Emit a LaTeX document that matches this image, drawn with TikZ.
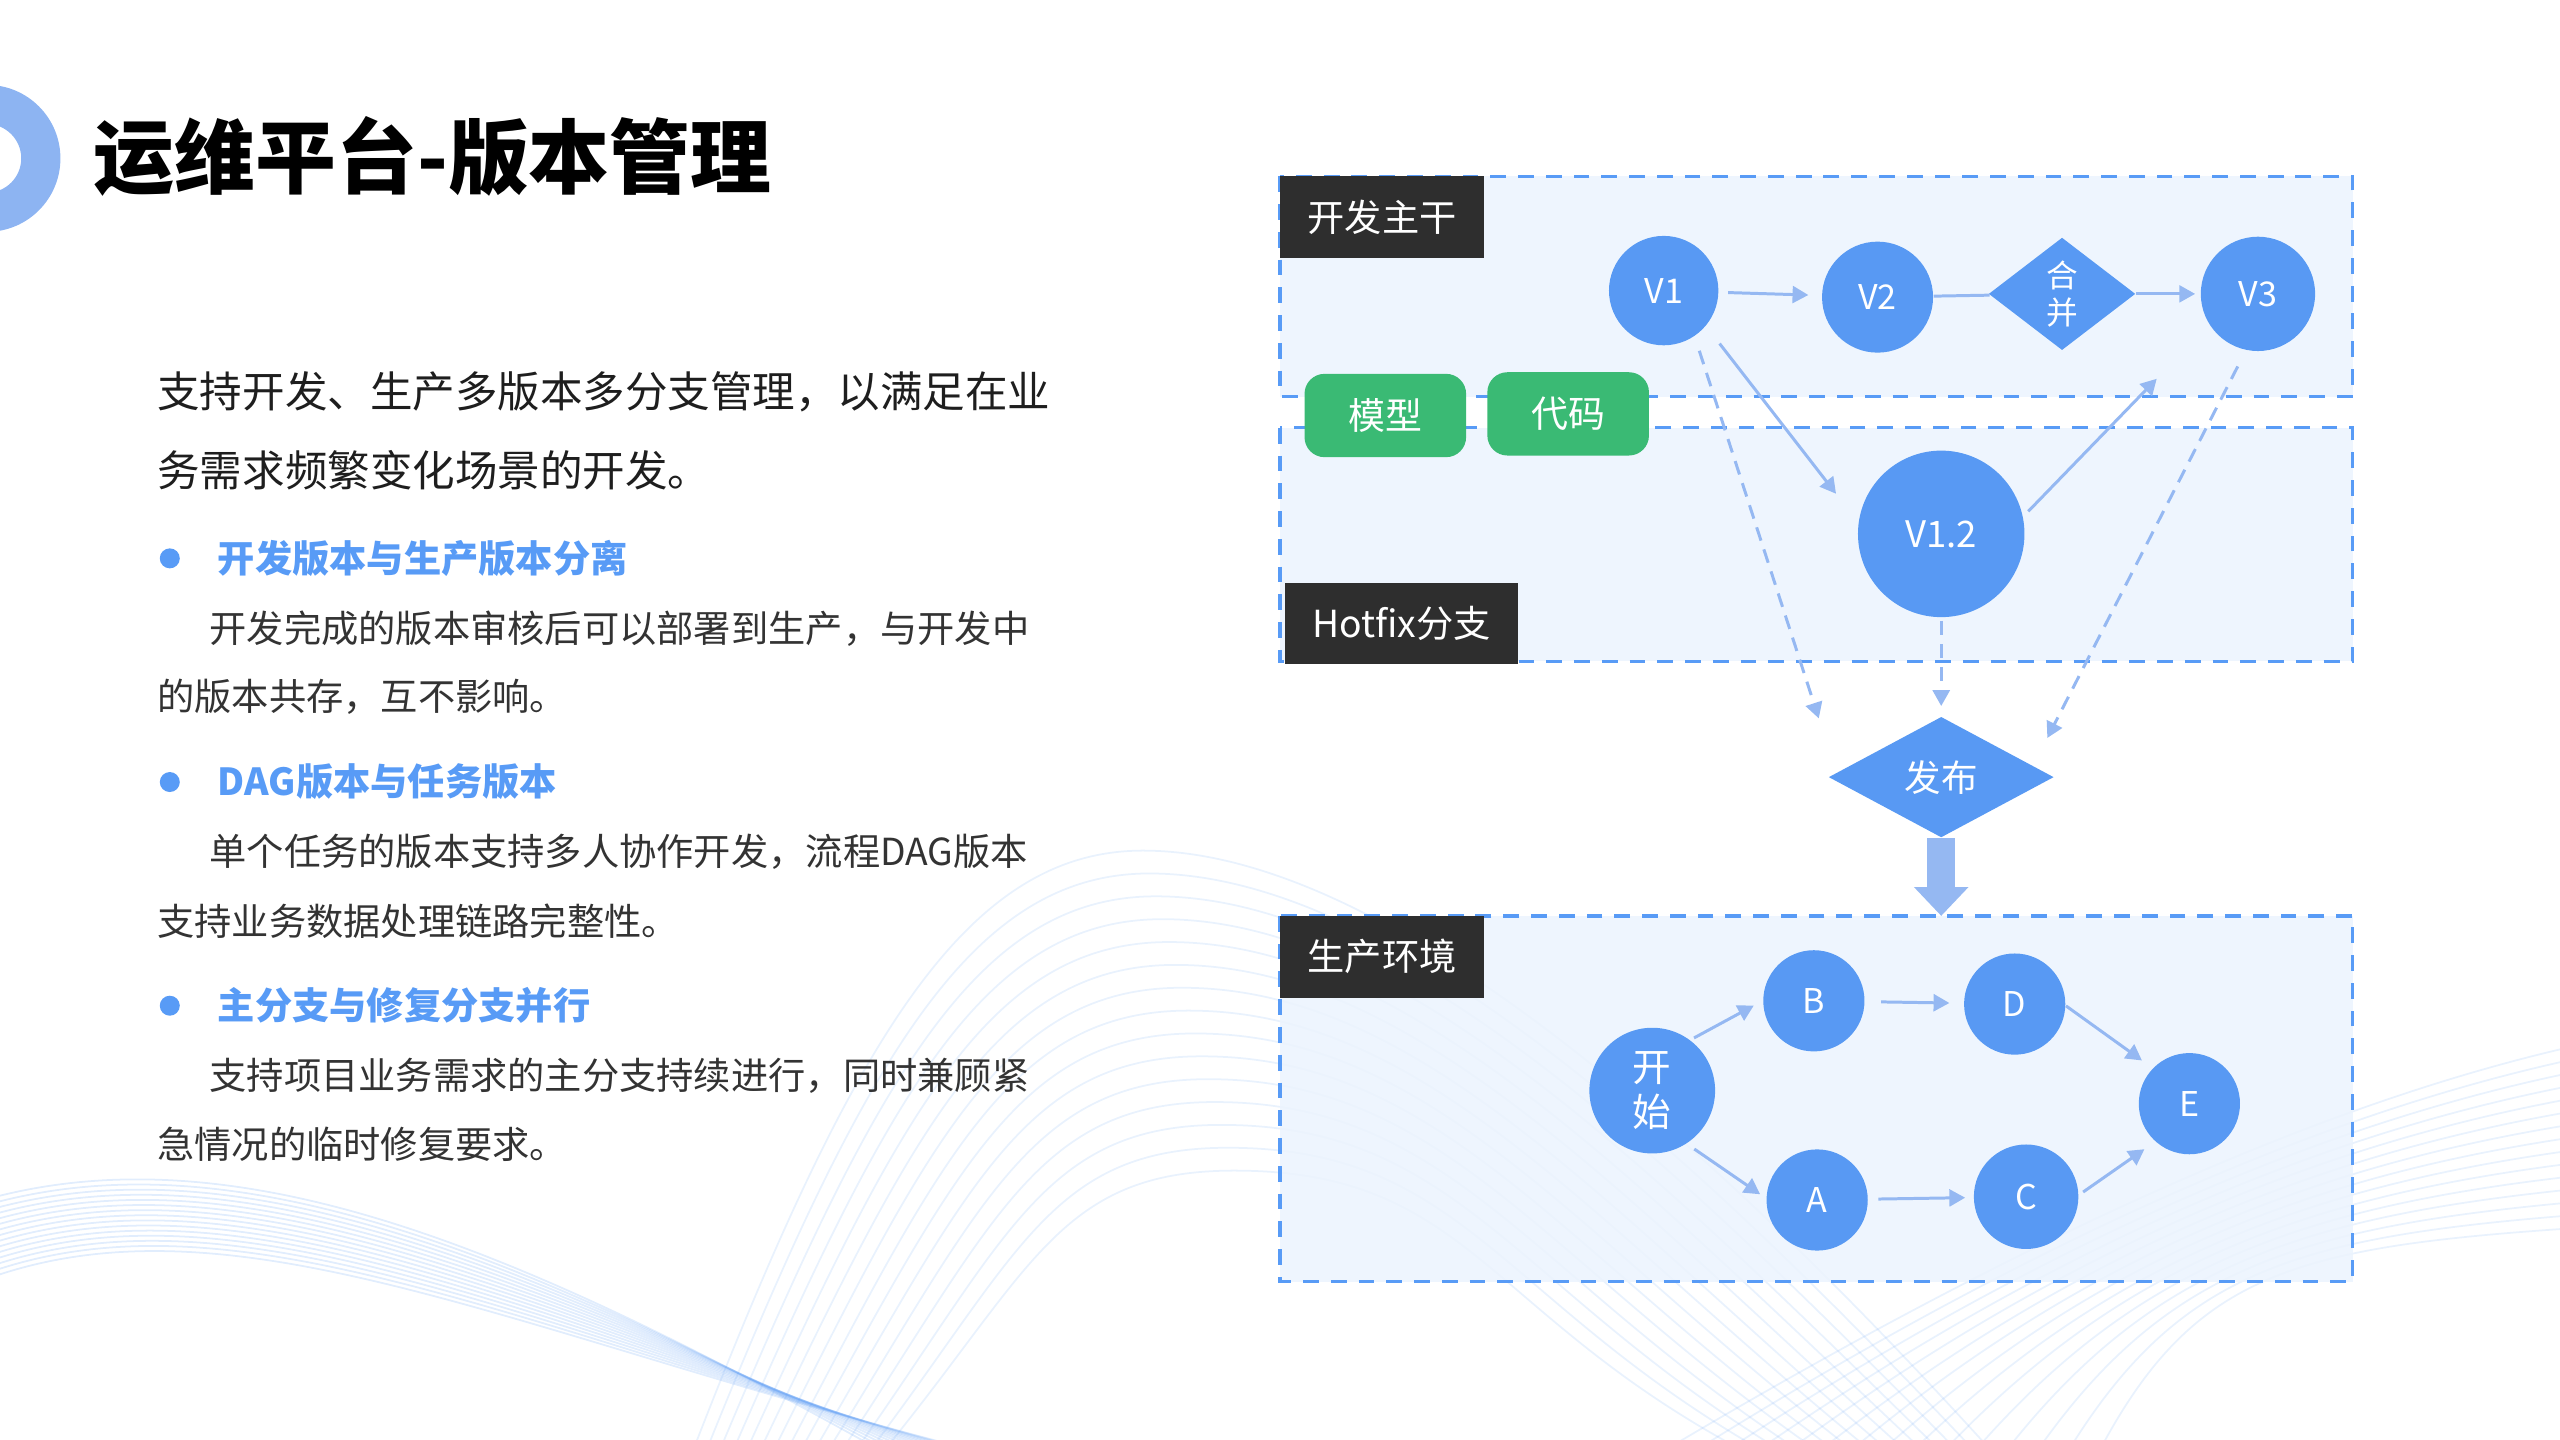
\documentclass[tikz,border=0pt]{standalone}
\usepackage{fontspec}
\setmainfont{Noto Sans CJK SC}
\usetikzlibrary{shapes.geometric, arrows.meta, positioning}
\definecolor{nodeblue}{RGB}{88,153,243}
\definecolor{linkblue}{RGB}{149,184,242}
\definecolor{dashblue}{RGB}{88,155,246}
\definecolor{lanefill}{RGB}{236,244,254}
\definecolor{tagdark}{RGB}{46,46,46}
\definecolor{kindgreen}{RGB}{58,186,116}
\definecolor{ringblue}{RGB}{141,180,242}
\definecolor{headblue}{RGB}{88,155,246}
\definecolor{textdark}{RGB}{30,30,30}
\definecolor{bodygrey}{RGB}{51,51,51}

\begin{document}
\begin{tikzpicture}[x=0.016327cm, y=-0.016327cm,
    every node/.style={inner sep=0pt},
    ver/.style={circle, fill=nodeblue, text=white, font=\fontsize{9.7pt}{11pt}\selectfont},
    gate/.style={diamond, fill=nodeblue, text=white},
    lane/.style={draw=dashblue, fill=lanefill, fill opacity=0.88, line width=0.95pt, dash pattern=on 4.5pt off 3.4pt},
    tag/.style={fill=tagdark, text=white, minimum height=0.816cm, font=\fontsize{10.6pt}{12pt}\selectfont},
    kind/.style={fill=kindgreen, text=white, rounded corners=0.2cm, minimum width=1.616cm, minimum height=0.833cm, font=\fontsize{10.5pt}{12pt}\selectfont},
    link/.style={draw=linkblue, line width=0.85pt, -{Triangle[length=4.5pt,width=4.8pt]}},
    hint/.style={link, dash pattern=on 4pt off 2.6pt},
    wave/.style={nodeblue, line width=0.5pt, draw opacity=0.13},
    lead/.style={anchor=west, text=textdark, font=\fontsize{12.1pt}{14pt}\selectfont},
    point/.style={anchor=west, text=headblue, font=\bfseries\fontsize{10.6pt}{12pt}\selectfont},
    body/.style={anchor=west, text=bodygrey, font=\fontsize{10.6pt}{12pt}\selectfont}]
    \useasboundingbox (0,0) rectangle (1568,882);
    % background waves
    \begin{scope}
        \clip (0,0) rectangle (1568,882);
        \foreach \k in {0,...,14}
            \draw[wave, draw opacity=0.18] (-10,{735+3.5*\k}) .. controls (150,{690+2.5*\k}) and (330,{770+4*\k}) .. ({560+6*\k},900);
        \foreach \k in {0,...,14}
            \draw[wave] ({420+8*\k},900) .. controls ({520+8*\k},{640+10*\k}) and ({590+4*\k},{521+14*\k}) .. ({700+4*\k},{521+14*\k})
                .. controls ({850+4*\k},{521+14*\k}) and ({1050-10*\k},{700+8*\k}) .. ({1230-10*\k},900);
        \foreach \k in {0,...,14}
            \draw[wave] ({1000+20*\k},900) .. controls ({1200+10*\k},780) and (1400,{680+6*\k}) .. (1580,{640+8*\k});
    \end{scope}
    % title ring
    \fill[ringblue, even odd rule] (-8,97) circle (0.735cm) (-8,97) circle (0.343cm);
    \node[anchor=west, font=\bfseries\fontsize{23pt}{26pt}\selectfont] (title) at (57,96) {运维平台-版本管理};
    % left text
    \node[lead] (intro1) at (96,240) {支持开发、生产多版本多分支管理，以满足在业};
    \node[lead] (intro2) at (96,288) {务需求频繁变化场景的开发。};
    \foreach \y in {342,479,616}
        \fill[headblue] (104,\y) circle (0.1cm);
    \node[point] (head1) at (133,342) {开发版本与生产版本分离};
    \node[body] (text1a) at (128,385) {开发完成的版本审核后可以部署到生产，与开发中};
    \node[body] (text1b) at (96,427) {的版本共存，互不影响。};
    \node[point] (head2) at (133,479) {DAG版本与任务版本};
    \node[body] (text2a) at (128,522) {单个任务的版本支持多人协作开发，流程DAG版本};
    \node[body] (text2b) at (96,564) {支持业务数据处理链路完整性。};
    \node[point] (head3) at (133,616) {主分支与修复分支并行};
    \node[body] (text3a) at (128,659) {支持项目业务需求的主分支持续进行，同时兼顾紧};
    \node[body] (text3b) at (96,701) {急情况的临时修复要求。};
    % lanes
    \draw[lane] (784,108) rectangle (1441,243);
    \draw[lane] (784,262) rectangle (1441,405);
    \draw[lane] (784,561) rectangle (1441,785);
    \node[tag, minimum width=2.041cm] (trunktag) at (846.5,133) {开发主干};
    \node[tag, minimum width=2.335cm] (fixtag) at (858.5,382) {Hotfix分支};
    \node[tag, minimum width=2.041cm] (prodtag) at (846.5,586) {生产环境};
    \node[kind] (model) at (848.5,254.5) {模型};
    \node[kind] (code) at (960.5,253.5) {代码};
    % version nodes
    \node[ver, minimum size=1.094cm] (v1) at (1019,178) {V1};
    \node[ver, minimum size=1.110cm] (v2) at (1150,182) {V2};
    \node[gate, minimum width=1.469cm, minimum height=1.127cm, align=center, font=\fontsize{9pt}{10.7pt}\selectfont] (merge) at (1263,180) {合\\并};
    \node[ver, minimum size=1.143cm] (v3) at (1383,180) {V3};
    \node[ver, minimum size=1.665cm, font=\fontsize{10.4pt}{12pt}\selectfont] (v12) at (1189,327) {V1.2};
    \node[gate, minimum width=2.253cm, minimum height=1.208cm, font=\fontsize{10.4pt}{12pt}\selectfont] (release) at (1189,476) {发布};
    % production dag
    \node[ver, minimum size=1.257cm, align=center, font=\fontsize{11pt}{13pt}\selectfont] (start) at (1012,668) {开\\始};
    \node[ver, minimum size=1.012cm] (b) at (1111,613) {B};
    \node[ver, minimum size=1.012cm] (d) at (1234,615) {D};
    \node[ver, minimum size=1.012cm] (e) at (1341,676) {E};
    \node[ver, minimum size=1.012cm] (a) at (1113,735) {A};
    \node[ver, minimum size=1.045cm] (c) at (1241,733) {C};
    \coordinate (mergein) at (1321,232);
    \coordinate (relin1) at (1114,440);
    \coordinate (relin3) at (1254,452);
    \coordinate (prodtop) at (1189,561);
    % connectors
    \draw[link, shorten <=0.09cm, shorten >=0.13cm] (v1) -- (v2);
    \draw[linkblue, line width=0.85pt] (v2) -- (merge);
    \draw[link, shorten >=0.05cm] (merge) -- (v3);
    \draw[link, shorten <=0.22cm, shorten >=0.36cm] (v1.-40) -- (v12.172);
    \draw[link, shorten <=0.07cm] (v12.12) -- (mergein);
    \draw[hint, shorten <=0.15cm] (v1.-56) -- (relin1);
    \draw[hint, shorten <=0.03cm, shorten >=0.1cm] (v12) -- (release);
    \draw[hint, shorten <=0.18cm] (v3.-102) -- (relin3);
    \draw[linkblue, line width=7.9pt, -{Triangle[length=8.2pt,width=15pt]}] (release.south) -- (prodtop);
    \draw[link, shorten <=0.04cm, shorten >=0.1cm] (start.53) -- (b.180);
    \draw[link, shorten <=0.16cm, shorten >=0.14cm] (b) -- (d);
    \draw[link, shorten >=0.13cm] (d.-2) -- (e.136);
    \draw[link, shorten <=0.09cm, shorten >=0.07cm] (start.-57) -- (a.178);
    \draw[link, shorten <=0.1cm, shorten >=0.08cm] (a) -- (c);
    \draw[link, shorten <=0.05cm, shorten >=0.13cm] (c.2) -- (e.228);
\end{tikzpicture}
\end{document}
